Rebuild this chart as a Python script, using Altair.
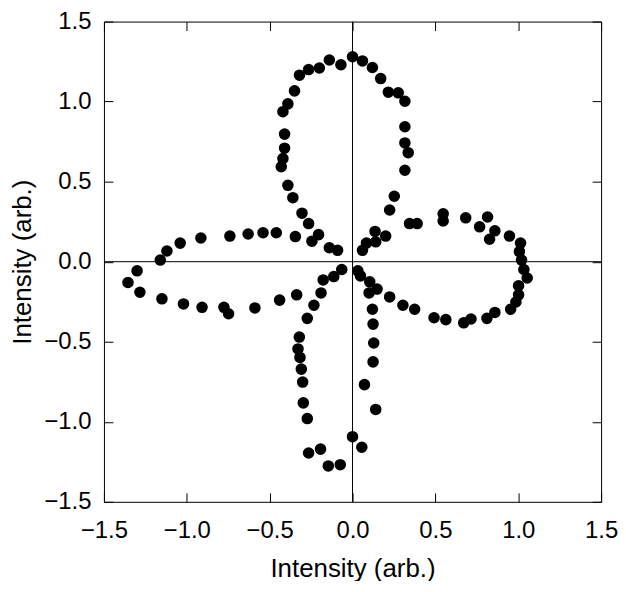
import altair as alt
import pandas as pd

x_vals = [
    0.0, -0.07, -0.14, -0.20, -0.265, -0.32, -0.35, -0.39, -0.42, -0.41, -0.41, -0.42, -0.43,
    -0.39, -0.36, -0.305, -0.265, -0.205, -0.245, -0.345, -0.46, -0.54, -0.63, -0.74, -0.915,
    -1.04, -1.12, -1.16, -0.14, -0.09,
    0.06, 0.12, 0.17, 0.216, 0.276, 0.316, 0.316, 0.316, 0.336, 0.316, 0.252, 0.224, 0.344,
    0.39, 0.547, 0.547, 0.683, 0.815, 0.767, 0.859, 0.827, 0.947, 1.014, 1.007, 1.02, 0.136,
    0.2, 0.14, 0.084, 0.06,
    -1.30, -1.355, -1.283, -1.15, -1.02, -0.908, -0.776, -0.748, -0.589, -0.44, -0.337, -0.233,
    -0.19, -0.177, -0.113, -0.065, -0.273, -0.321, -0.329, -0.317, -0.309, -0.301, -0.297,
    -0.273, -0.265, -0.193, -0.146, -0.074, 0.0,
    1.034, 1.054, 1.002, 1.002, 0.986, 0.954, 0.859, 0.811, 0.715, 0.671, 0.563, 0.492, 0.375,
    0.304, 0.224, 0.148, 0.1, 0.104, 0.048, 0.032, 0.12, 0.124, 0.128, 0.124, 0.072, 0.14, 0.056,
]
y_vals = [
    1.28, 1.23, 1.26, 1.21, 1.20, 1.165, 1.067, 0.986, 0.937, 0.797, 0.709, 0.644, 0.593,
    0.477, 0.40, 0.303, 0.238, 0.169, 0.128, 0.157, 0.181, 0.181, 0.173, 0.16, 0.148,
    0.116, 0.067, 0.01, 0.087, 0.071,
    1.254, 1.213, 1.144, 1.059, 1.055, 1.002, 0.843, 0.742, 0.681, 0.571, 0.409, 0.323, 0.238,
    0.238, 0.299, 0.254, 0.274, 0.279, 0.218, 0.193, 0.140, 0.16, 0.116, 0.063, 0.01, 0.189,
    0.16, 0.124, 0.116, 0.071,
    -0.057, -0.13, -0.191, -0.232, -0.264, -0.285, -0.285, -0.325, -0.289, -0.24, -0.207, -0.272,
    -0.195, -0.114, -0.093, -0.049, -0.354, -0.471, -0.545, -0.598, -0.671, -0.752, -0.882,
    -0.98, -1.195, -1.171, -1.276, -1.268, -1.093,
    -0.049, -0.102, -0.15, -0.207, -0.252, -0.297, -0.317, -0.354, -0.358, -0.382, -0.362, -0.35, -0.297,
    -0.272, -0.22, -0.171, -0.195, -0.126, -0.089, -0.057, -0.297, -0.39, -0.508, -0.626, -0.768, -0.923, -1.159,
]
tick_values = [-1.5, -1.0, -0.5, 0.0, 0.5, 1.0, 1.5]
axis_title = "Intensity (arb.)"

df = pd.DataFrame({"x": x_vals, "y": y_vals})
zero_df = pd.DataFrame({"z": [0.0]})

FONT = "Liberation Sans"
xscale = alt.Scale(domain=[-1.5, 1.5], nice=False, zero=False)
yscale = alt.Scale(domain=[-1.5, 1.5], nice=False, zero=False)

common_axis = dict(values=tick_values, format=".1f", grid=False, domain=False,
                   tickSize=9, offset=-9, tickColor="black", tickWidth=1,
                   labelFont=FONT, labelFontSize=24, labelColor="black",
                   labelFlush=False, labelOverlap=False,
                   titleFont=FONT, titleFontSize=26, titleColor="black",
                   titleFontWeight="normal")

points = alt.Chart(df).mark_circle(size=135, color="black", opacity=1).encode(
    x=alt.X("x:Q", scale=xscale,
            axis=alt.Axis(orient="bottom", title=axis_title, labelPadding=17,
                          titlePadding=13, **common_axis)),
    y=alt.Y("y:Q", scale=yscale,
            axis=alt.Axis(orient="left", title=axis_title, labelPadding=13,
                          titlePadding=8, **common_axis)),
)

ghost = alt.Chart(df).mark_circle(opacity=0).encode(
    x=alt.X("x:Q", scale=xscale,
            axis=alt.Axis(orient="top", labels=False, title=None, values=tick_values,
                          grid=False, domain=False, tickSize=9, offset=-9,
                          tickColor="black")),
    y=alt.Y("y:Q", scale=yscale,
            axis=alt.Axis(orient="right", labels=False, title=None, values=tick_values,
                          grid=False, domain=False, tickSize=9, offset=-9,
                          tickColor="black")),
)

vline = alt.Chart(zero_df).mark_rule(color="black", strokeWidth=1).encode(
    x=alt.X("z:Q", scale=xscale, axis=None)
)
hline = alt.Chart(zero_df).mark_rule(color="black", strokeWidth=1).encode(
    y=alt.Y("z:Q", scale=yscale, axis=None)
)

chart = alt.layer(vline, hline, ghost, points).resolve_axis(
    x="independent", y="independent"
).properties(
    width=500, height=483, autosize="none",
    padding={"left": 96.5, "top": 12, "right": 17, "bottom": 78},
).configure_view(stroke="black", strokeWidth=1)

chart.save("out.html", embed_options={"renderer": "svg", "actions": False})
